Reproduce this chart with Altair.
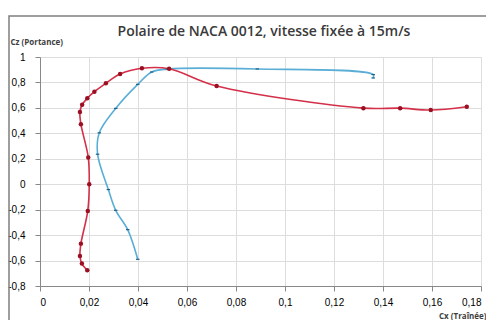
import altair as alt
import pandas as pd

# Red series (marked with round dots)
red_cx = [0.0193, 0.0171, 0.0163, 0.0167, 0.0195, 0.0201, 0.0197, 0.0167, 0.0163, 0.0172,
          0.0193, 0.0222, 0.0269, 0.0327, 0.0416, 0.0527, 0.0721, 0.1320, 0.1470, 0.1595, 0.1742]
red_cz = [-0.677, -0.624, -0.565, -0.467, -0.210, 0.000, 0.210, 0.472, 0.567, 0.625,
          0.675, 0.727, 0.793, 0.866, 0.911, 0.908, 0.772, 0.598, 0.598, 0.583, 0.609]

# Blue series (marked with small dashes)
blue_cx = [0.0399, 0.0358, 0.0309, 0.0279, 0.0235, 0.0242, 0.0309, 0.0399, 0.0456, 0.0520,
           0.0887, 0.1360, 0.1360]
blue_cz = [-0.590, -0.357, -0.205, -0.042, 0.236, 0.404, 0.596, 0.785, 0.882, 0.905,
           0.906, 0.862, 0.835]

x_ticks = [0, 0.02, 0.04, 0.06, 0.08, 0.1, 0.12, 0.14, 0.16, 0.18]
y_ticks = [-0.8, -0.6, -0.4, -0.2, 0, 0.2, 0.4, 0.6, 0.8, 1]
title_text = "Polaire de NACA 0012, vitesse fixée à 15m/s"

red = pd.DataFrame({"cx": red_cx, "cz": red_cz, "i": range(len(red_cx))})
blue = pd.DataFrame({"cx": blue_cx, "cz": blue_cz, "i": range(len(blue_cx))})

lab = "replace(toString(round(datum.value*100)/100), '.', ',')"
FONT = "Open Sans"

x = alt.X("cx:Q", scale=alt.Scale(domain=[0, 0.18], nice=False),
          axis=alt.Axis(values=x_ticks, labelExpr=lab, title="Cx (Traînée)",
                        titleAnchor="end", titleAlign="right", titleX=446, titleY=26,
                        titleBaseline="top", titleFontSize=8, titleFontWeight="bold",
                        titleColor="#404040", titleFont=FONT, labelPadding=6))
y = alt.Y("cz:Q", scale=alt.Scale(domain=[-0.8, 1], nice=False),
          axis=alt.Axis(values=y_ticks, labelExpr=lab, title="Cz (Portance)",
                        titleAngle=0, titleAlign="left", titleX=-30, titleY=-13,
                        titleBaseline="alphabetic", titleFontSize=8, titleFontWeight="bold",
                        titleColor="#404040", titleFont=FONT, labelPadding=10))

one = pd.DataFrame({"a": [0]})
frame = alt.Chart(one).mark_rect(
    fillOpacity=0, stroke="#7f7f7f", strokeWidth=1.5
).encode(x=alt.value(-31), x2=alt.value(470), y=alt.value(-41), y2=alt.value(300))

title = alt.Chart(one).mark_text(
    font=FONT, fontSize=14, fontWeight=600, color="#3a3a3a", align="center", baseline="middle"
).encode(x=alt.value(224), y=alt.value(-25), text=alt.value(title_text))

red_line = alt.Chart(red).mark_line(color="#d4304a", strokeWidth=1.6, interpolate="catmull-rom").encode(
    x=x, y=y, order="i:O")
red_pts = alt.Chart(red).mark_point(shape="circle", filled=True, size=20, color="#9b0f22", opacity=1).encode(
    x=x, y=y)
blue_line = alt.Chart(blue).mark_line(color="#5aaed6", strokeWidth=1.6, interpolate="catmull-rom").encode(
    x=x, y=y, order="i:O")
blue_pts = alt.Chart(blue).mark_point(shape="stroke", size=12, color="#1f5f86", strokeWidth=1.2, opacity=1).encode(
    x=x, y=y)

chart = alt.layer(frame, title, blue_line, red_line, blue_pts, red_pts).properties(
    width=441, height=229,
    autosize="none",
    padding={"left": 32, "top": 49, "right": 5, "bottom": 34},
).configure_view(stroke=None).configure_axis(
    grid=True, gridColor="#d9d9d9", gridWidth=1, domain=False, ticks=False,
    labelFont=FONT, labelFontSize=8, labelColor="#595959",
).configure(background="white")

chart.save("out.html", embed_options={"renderer": "svg", "actions": False})
